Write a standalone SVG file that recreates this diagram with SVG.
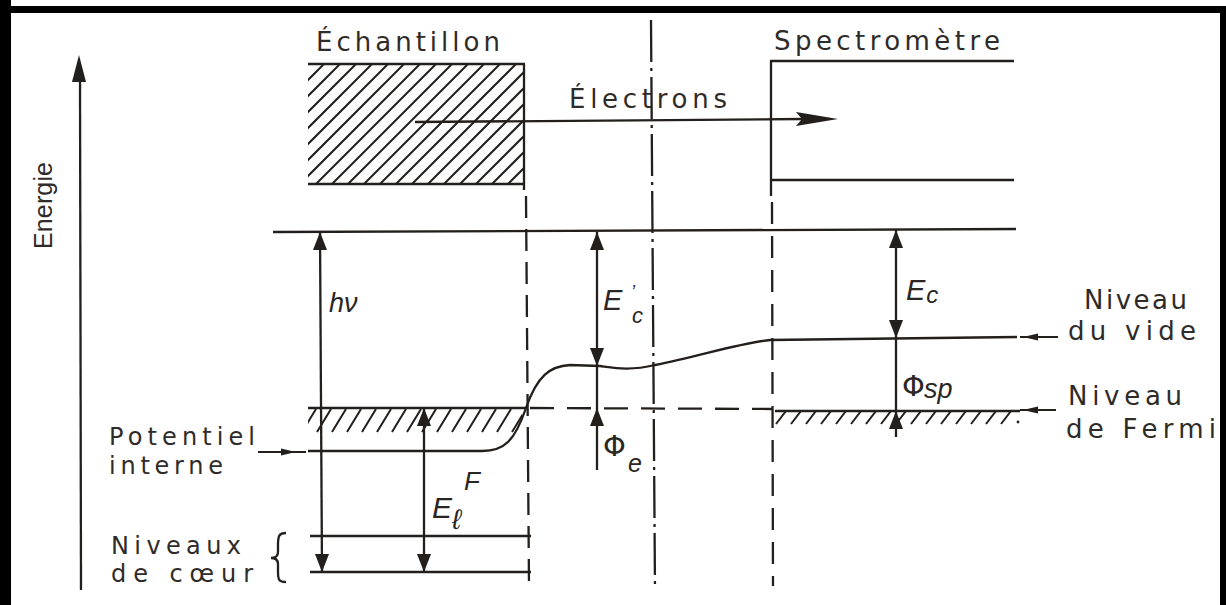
<svg xmlns="http://www.w3.org/2000/svg" width="1226" height="605" viewBox="0 0 1226 605">
<style>
.ln{stroke:#221f1d;stroke-width:2.3;fill:none}
.dash{stroke:#221f1d;stroke-width:2.3;fill:none;stroke-dasharray:22 11}
.dd{stroke:#221f1d;stroke-width:2.3;fill:none;stroke-dasharray:42 6 3 6}
.hatch{stroke:#221f1d;stroke-width:2;fill:none}
.ah{fill:#221f1d}
.t{font-family:"DejaVu Sans","Liberation Sans",sans-serif;font-size:26px;fill:#2f2b28}
.s{font-family:"DejaVu Sans","Liberation Sans",sans-serif;font-size:24px;fill:#2f2b28}
.m{font-family:"Liberation Sans","DejaVu Sans",sans-serif;font-style:italic;fill:#2a2623}
.g{font-family:"DejaVu Sans","Liberation Sans",sans-serif;fill:#2a2623}
</style>
<defs>
<path id="up" d="M0,0 L-7,18 L7,18 Z"/>
<clipPath id="boxclip"><rect x="308" y="64" width="216" height="120"/></clipPath>
<clipPath id="fclip1"><rect x="308" y="409" width="214" height="24"/></clipPath>
<clipPath id="fclip2"><rect x="775" y="411" width="240" height="14"/></clipPath>
</defs>
<rect width="1226" height="605" fill="#ffffff"/>
<g id="frame">
<rect x="0" y="0" width="11" height="605" fill="#000"/>
<rect x="0" y="6" width="1226" height="7" fill="#000"/>
<rect x="1220" y="6" width="6" height="599" fill="#000"/>
</g>
<g id="axis">
<path class="ln" d="M80 78 L81 590"/>
<polygon class="ah" points="79,55 72,82 86,82"/>
<text transform="translate(52,249) rotate(-90)" font-family="Liberation Sans, DejaVu Sans, sans-serif" font-size="25" fill="#2f2b28" textLength="87" lengthAdjust="spacing">Energie</text>
</g>
<g id="sample">
<path class="hatch" clip-path="url(#boxclip)" d="M188 184L308 64M204 184L324 64M220 184L340 64M236 184L356 64M252 184L372 64M268 184L388 64M284 184L404 64M300 184L420 64M316 184L436 64M332 184L452 64M348 184L468 64M364 184L484 64M380 184L500 64M396 184L516 64M412 184L532 64M428 184L548 64M444 184L564 64M460 184L580 64M476 184L596 64M492 184L612 64M508 184L628 64"/>
<path class="ln" d="M308 64 L525 64 M308 184 L525 184 M524 64 L524 190"/>
<path class="dash" d="M526 196 L529 586"/>
<path class="ln" d="M308 408 L526 408"/>
<path class="hatch" clip-path="url(#fclip1)" d="M302 432L316 409M317 432L331 409M332 432L346 409M347 432L361 409M362 432L376 409M377 432L391 409M392 432L406 409M407 432L421 409M422 432L436 409M437 432L451 409M452 432L466 409M467 432L481 409M482 432L496 409M497 432L511 409M512 432L526 409"/>
<path class="ln" d="M310 536 L531 536 M310 572 L531 572"/>
<text class="t" x="316" y="51" textLength="184" lengthAdjust="spacing">Échantillon</text>
</g>
<g id="spectrometre">
<path class="ln" d="M770 61 L1014 61 M770 180 L1014 180 M771 61 L771 196"/>
<path class="dash" d="M772 202 L773 586" style="stroke-dasharray:22 12"/>
<path class="ln" d="M775 411 L1020 411"/>
<path class="hatch" clip-path="url(#fclip2)" d="M776 424L786 411M791 424L801 411M806 424L816 411M821 424L831 411M836 424L846 411M851 424L861 411M866 424L876 411M881 424L891 411M896 424L906 411M911 424L921 411M926 424L936 411M941 424L951 411M956 424L966 411M971 424L981 411M986 424L996 411M1001 424L1011 411"/>
<circle cx="1018" cy="422" r="1.4" fill="#221f1d"/>
<text class="t" x="774" y="50" textLength="226" lengthAdjust="spacing">Spectromètre</text>
</g>
<g id="interface">
<path class="dd" d="M651 20 L655 590"/>
</g>
<g id="levels">
<path class="ln" d="M273 232 L1016 229"/>
<path class="ln" d="M308 451 L482 451 C505 451 515 440 526 408 C537 376 550 366 570 365 L600 366 C615 368 630 371 655 365 C700 356 740 343 770 340 L1017 337"/>
<path class="ln" d="M530 408 L772 409" style="stroke-dasharray:24 13"/>
</g>
<g id="connectors">
<path class="ln" d="M415 122 L802 119"/>
<polygon class="ah" points="796,112 838,119 796,126 802,119"/>
<path class="ln" d="M320 232 L322 572"/>
<use href="#up" x="320" y="232" class="ah"/>
<use href="#up" transform="translate(322,572) rotate(180)" class="ah"/>
<path class="ln" d="M597 232 L597 470"/>
<use href="#up" x="597" y="232" class="ah"/>
<use href="#up" transform="translate(597,366) rotate(180)" class="ah"/>
<use href="#up" x="597" y="408" class="ah"/>
<path class="ln" d="M424 408 L424 572"/>
<use href="#up" x="424" y="408" class="ah"/>
<use href="#up" transform="translate(424,572) rotate(180)" class="ah"/>
<path class="ln" d="M896 230 L896 437"/>
<use href="#up" x="896" y="230" class="ah"/>
<use href="#up" transform="translate(896,338) rotate(180)" class="ah"/>
<use href="#up" x="896" y="411" class="ah"/>
<path class="ln" d="M1058 337 L1020 337 M1056 410 L1020 410 M258 452 L306 452" style="stroke-width:1.8"/>
<polygon class="ah" points="1023,337 1038,333.5 1038,340.5"/>
<polygon class="ah" points="1023,410 1038,406.5 1038,413.5"/>
<polygon class="ah" points="296,452 281,448.5 281,455.5"/>
<path class="ln" d="M286 533 C279 533 278 536 278 545 L278 552 C278 556 276 558 271 558 C276 558 278 560 278 564 L278 572 C278 580 279 582 286 582"/>
</g>
<g id="labels">
<text class="t" x="569" y="108" textLength="158" lengthAdjust="spacing">Électrons</text>
<text class="s" x="109" y="445" textLength="146" lengthAdjust="spacing">Potentiel</text>
<text class="s" x="109" y="474" textLength="114" lengthAdjust="spacing">interne</text>
<text class="s" x="111" y="554" textLength="130" lengthAdjust="spacing">Niveaux</text>
<text class="s" x="111" y="582" textLength="142" lengthAdjust="spacing">de cœur</text>
<text class="t" x="1084" y="309" textLength="103" lengthAdjust="spacing">Niveau</text>
<text class="t" x="1068" y="340" textLength="128" lengthAdjust="spacing">du vide</text>
<text class="t" x="1068" y="405" textLength="114" lengthAdjust="spacing">Niveau</text>
<text class="t" x="1066" y="438" textLength="150" lengthAdjust="spacing">de Fermi</text>
<text class="m" x="329" y="312" font-size="27">hν</text>
<text class="m" x="603" y="310" font-size="29">E</text>
<text class="m" x="631" y="298" font-size="18">’</text>
<text class="m" x="632" y="323" font-size="22">c</text>
<text class="g" x="603" y="456" font-size="29">Φ</text>
<text class="m" x="628" y="472" font-size="25">e</text>
<text class="m" x="906" y="300" font-size="29">E<tspan font-size="24" dx="1" dy="3">c</tspan></text>
<text class="g" x="902" y="396" font-size="29">Φ</text>
<text class="m" x="924" y="398" font-size="27">sp</text>
<text class="m" x="432" y="518" font-size="30">E</text>
<text class="m" x="464" y="490" font-size="26">F</text>
<text class="m" x="452" y="529" font-size="28">ℓ</text>
</g>
</svg>
